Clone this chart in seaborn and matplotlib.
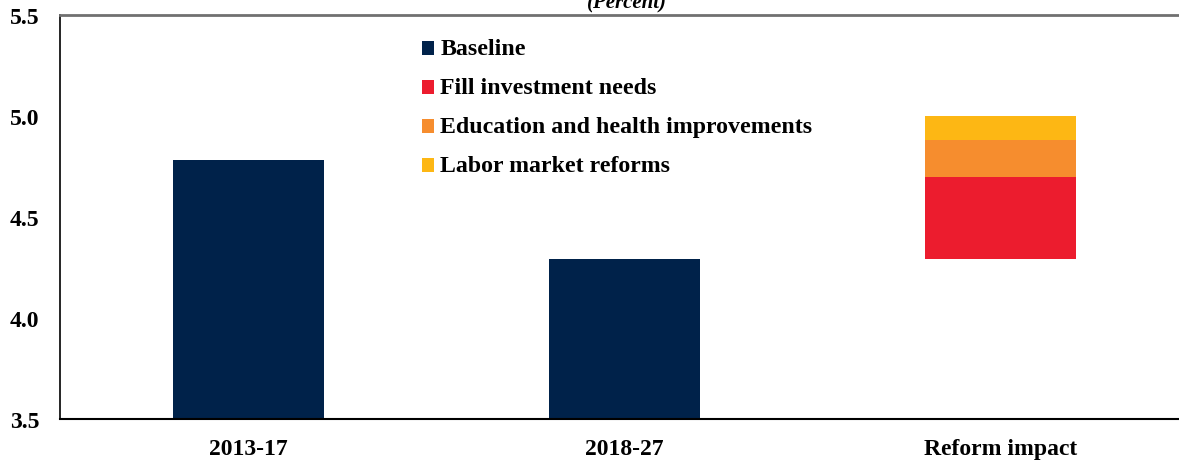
import numpy as np
import pandas as pd
import matplotlib
matplotlib.use("Agg")
import matplotlib.pyplot as plt
from matplotlib.patches import Patch
import seaborn as sns

# Growth scenarios (percent)
categories = ["2013-17", "2018-27", "Reform impact"]
baseline_periods = ["2013-17", "2018-27"]
baseline_values = [4.78, 4.29]

reform_labels = ["Fill investment needs", "Education and health improvements", "Labor market reforms"]
reform_increments = [0.41, 0.18, 0.12]
reform_start = 4.29

navy = "#00224A"
reform_colors = ["#EC1C2E", "#F68D2E", "#FDB714"]

sns.set_theme(style="white")
plt.rcParams["font.family"] = ["Liberation Serif", "DejaVu Serif"]
plt.rcParams["font.weight"] = "bold"
plt.rcParams["text.color"] = "black"

fig = plt.figure(figsize=(11.79, 4.64), dpi=100)
ax = fig.add_axes([60 / 1179, 1 - 420 / 464, 1119 / 1179, 404 / 464])

df = pd.DataFrame({"period": baseline_periods, "growth": baseline_values})
sns.barplot(data=df, x="period", y="growth", order=categories, color=navy,
            width=0.40, saturation=1, ax=ax, edgecolor="none")

# stacked reform contributions on top of the 2018-27 baseline
bottoms = reform_start + np.concatenate([[0], np.cumsum(reform_increments)[:-1]])
xpos = categories.index("Reform impact")
for inc, b, c in zip(reform_increments, bottoms, reform_colors):
    ax.bar(xpos, inc, bottom=b, width=0.40, color=c, edgecolor="none")

ax.set_ylim(3.5, 5.5)
ax.set_yticks([3.5, 4.0, 4.5, 5.0, 5.5])
ax.set_yticklabels([f"{v:.1f}" for v in [3.5, 4.0, 4.5, 5.0, 5.5]])
ax.set_xlim(-0.501, 2.475)
ax.set_xlabel("")
ax.set_ylabel("")
ax.tick_params(axis="both", length=0, labelsize=17, colors="black")
ax.tick_params(axis="y", pad=15)
ax.tick_params(axis="x", pad=14)
for lab in ax.get_xticklabels() + ax.get_yticklabels():
    lab.set_fontweight("bold")

ax.spines["right"].set_visible(False)
ax.spines["top"].set_color("#707070")
ax.spines["top"].set_linewidth(2.0)
ax.spines["left"].set_color("black")
ax.spines["left"].set_linewidth(1.2)
ax.spines["bottom"].set_color("black")
ax.spines["bottom"].set_linewidth(1.5)

handles = [Patch(facecolor=navy, edgecolor="none", label="Baseline")] + [
    Patch(facecolor=c, edgecolor="none", label=l) for c, l in zip(reform_colors, reform_labels)
]
leg = ax.legend(handles=handles, loc="upper left", frameon=False,
                bbox_to_anchor=(422 / 1179, 1 - 39 / 464), bbox_transform=fig.transFigure,
                borderpad=0, borderaxespad=0, handlelength=0.5, handleheight=0.5,
                handletextpad=0.27, labelspacing=0.75,
                prop={"family": "Liberation Serif", "weight": "bold", "size": 17.2})
for t in leg.get_texts():
    t.set_color("black")
# nudge the colour squares down so they sit level with the text baseline
for h in leg.legend_handles:
    h.set_y(h.get_y() - 2)

fig.text(627 / 1179, 1 - 8 / 464, "(Percent)", ha="center", va="baseline",
         fontsize=15, fontweight="bold", fontstyle="italic", color="black")

fig.savefig("out.png", dpi=100)
